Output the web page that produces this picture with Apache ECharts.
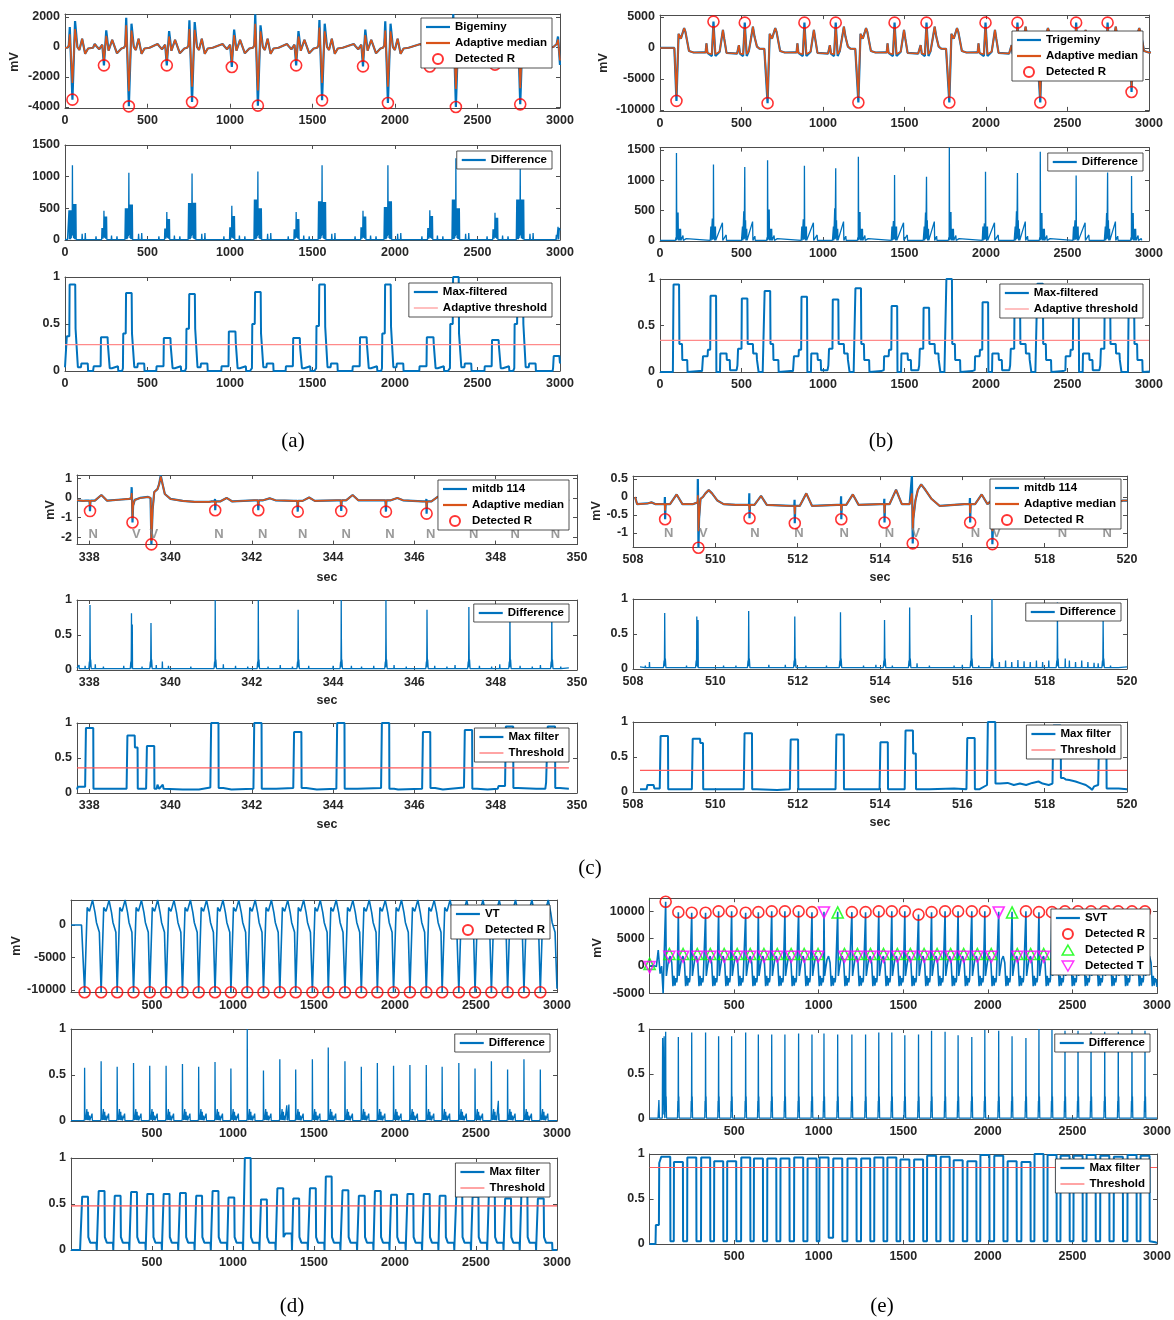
<!DOCTYPE html>
<html>
<head>
<meta charset="utf-8">
<script src="https://cdn.jsdelivr.net/npm/echarts@6/dist/echarts.min.js"></script>
<style>
  html, body { margin: 0; padding: 0; background: #fff; }
  #fig { width: 1174px; height: 1320px; }
</style>
</head>
<body>
<div id="fig"></div>
<script>
// ===================== (a) bigeminy =====================
const bgmVx = [45, 387, 770, 1169, 1558, 1957, 2369, 2759];          // ectopic beats
const bgmVr = [-3510, -3955, -3666, -3911, -3555, -3733, -4000, -3822];
const bgmVpre = [1333, 1955, 1780, 2178, 1800, 1711, 2200, 1900];
const bgmVpost = [1733, 1555, 1666, 1444, 1555, 1555, 1400, 1500];
const bgmVrMed = [-2400, -2950, -2650, -2900, -2400, -2650, -2800, -2750];
const bgmVpreMed = [850, 1450, 1200, 1550, 1300, 1100, 1400, 1450];
const bgmVpostMed = [1200, 1100, 1150, 1050, 1050, 1050, 1000, 1050];
const bgmNx = [236, 617, 1011, 1401, 1806, 2211, 2606];              // normal beats
const bgmNr = [-1222, -1222, -1333, -1222, -1289, -1300, -1178];
const bgmNpost = [1111, 1066, 1155, 1066, 1155, 1100, 1100];
const bgmNrMed = [-900, -900, -1000, -900, -950, -950, -880];
const bgmNpostMed = [750, 700, 800, 700, 800, 750, 750];
const bgmVShape = [[-30, -50], [-22, 100], [-16, 'pre'], [0, 'r'], [16, 'post'], [30, 0], [42, -200], [59, 550], [77, -450], [95, -100], [125, -50]];
const bgmNShape = [[-56, 200], [-45, 50], [-29, -150], [-10, 150], [0, 'r'], [14, 'post'], [28, -250], [50, 480], [79, -420], [106, -100]];
const bgmHead = [[0, -50], [8, -80]];
const bgmTail = [[2930, -50], [2960, 0], [2980, 200], [2988, 700], [3000, -1200]];
const bgmTailMed = [[2930, -50], [2960, 0], [2980, 200], [2988, 500], [3000, -900]];

const bgmDiffVpk = [1180, 1060, 1050, 1080, 1180, 1180, 1290, 1130];
const bgmDiffVs1 = [470, 500, 585, 640, 610, 520, 640, 640];
const bgmDiffVs2 = [570, 560, 590, 500, 600, 610, 500, 640];
const bgmDiffNpk = [460, 440, 540, 440, 460, 470, 430];
const bgmDiffNs1 = [190, 180, 200, 170, 200, 190, 170];
const bgmDiffNs2 = [370, 330, 380, 330, 370, 380, 350];
const bgmDiffVShape = [[-24, 5], [-21, 's1'], [-19, 10], [-17, 's1'], [-15, 20], [-13, 's1'], [-11, 10], [-9, 's1'], [-7, 30], [-5, 's1'], [-3, 60], [-1, 's1'], [0, 'pk'], [1, 's2'], [3, 80], [5, 's2'], [7, 30], [9, 's2'], [11, 20], [13, 's2'], [15, 10], [17, 's2'], [19, 10], [21, 's2'], [23, 5], [57, 5], [59, 100], [61, 5], [76, 5], [78, 110], [80, 5]];
const bgmDiffNShape = [[-50, 5], [-48, 60], [-46, 5], [-14, 5], [-12, 's1'], [-10, 20], [-8, 's1'], [-6, 20], [-4, 's1'], [-2, 40], [0, 'pk'], [2, 60], [4, 's2'], [6, 30], [8, 's2'], [10, 20], [12, 's2'], [14, 20], [16, 's2'], [18, 5], [44, 5], [46, 70], [48, 5], [77, 5], [79, 60], [81, 5]];
const bgmDiffHead = [[0, 10], [15, 5]];
const bgmDiffTail = [[2940, 5], [2975, 5], [2978, 80], [2981, 5], [2988, 210], [2992, 10], [2996, 190], [3000, 150]];

const bgmMaxVpk = [0.92, 0.83, 0.82, 0.84, 0.92, 0.92, 1.0, 0.88];
const bgmMaxVsh1 = [0.37, 0.40, 0.45, 0.50, 0.48, 0.40, 0.50, 0.50];
const bgmMaxVsh2 = [0.45, 0.40, 0.45, 0.40, 0.47, 0.47, 0.40, 0.50];
const bgmMaxNpk = [0.36, 0.35, 0.42, 0.35, 0.36, 0.36, 0.33];
const bgmMaxNsh = [0.28, 0.26, 0.30, 0.25, 0.28, 0.28, 0.26];
const bgmMaxVShape = [[-36, 0.03], [-34, 'sh1'], [-19, 'sh1'], [-17, 'pk'], [17, 'pk'], [19, 'sh2'], [31, 'sh2'], [33, 0.04], [52, 0.04], [54, 0.08], [93, 0.08], [95, 0.0], [125, 0.0]];
const bgmMaxNShape = [[-64, 0.0], [-62, 0.05], [-20, 0.05], [-18, 'pk'], [22, 'pk'], [24, 'sh'], [33, 'sh'], [35, 0.03], [48, 0.03], [50, 0.05], [85, 0.05], [87, 0.0], [110, 0.0]];
const bgmMaxHead = [[0, 0.04], [8, 0.04]];
const bgmMaxTail = [[2900, 0.0], [2955, 0.0], [2958, 0.03], [2962, 0.16], [2996, 0.16], [3000, 0.08]];
const bgmThreshold = 0.28;

// ===================== (b) trigeminy =====================
const tgmVx = [101, 660, 1217, 1775, 2333, 2893];
const tgmVr = [-8530, -8900, -8800, -8800, -8800, -7100];
const tgmVrMed = [-7550, -7900, -7800, -7800, -7800, -6400];
const tgmVb = [0, -200, -200, -150, -200, -200];
const tgmN1x = [328, 886, 1439, 1997, 2553];
const tgmN1r = [4250, 4080, 4080, 4080, 4080];
const tgmN1rMed = [3500, 3350, 3400, 3400, 3400];
const tgmN2x = [520, 1078, 1635, 2193, 2746];
const tgmN2r = [4080, 4080, 4080, 4080, 4080];
const tgmN2rMed = [3400, 3400, 3400, 3400, 3400];
const tgmVShape = [[-10, 'b'], [0, 'r'], [13, 2270], [27, 1500], [40, 2600], [47, 3200], [55, 2600], [77, -500], [105, -730], [160, -720]];
const tgmN1Shape = [[-48, -720], [-43, 750], [-37, -800], [-10, 'q'], [0, 'r'], [12, 'q'], [38, -600], [50, 1500], [58, 2900], [66, 1500], [80, -800], [145, -900]];
const tgmN2Shape = [[-42, -900], [-36, 450], [-29, -900], [-10, 'q'], [0, 'r'], [12, 'q'], [25, -500], [40, 1800], [50, 3450], [60, 1800], [75, 200], [90, -100], [120, -150]];
const tgmHead = [[0, 0], [88, 0]];

const tgmDiffVpk = [1450, 1330, 1390, 1540, 1470, 1070];
const tgmDiffVs = [470, 520, 480, 480, 460, 460];
const tgmDiffN1pk = [1260, 1240, 1090, 1140, 1080];
const tgmDiffN1s = [370, 360, 330, 290, 340];
const tgmDiffN2pk = [1220, 1200, 1060, 1120, 1130];
const tgmDiffN2s = [490, 540, 470, 490, 460];
const tgmDiffVShape = [[-6, 10], [-3, 60], [-1, 10], [0, 'pk'], [2, 20], [5, 's'], [7, 30], [10, 's'], [12, 10], [17, 200], [19, 10], [25, 200], [27, 10], [40, 90], [42, 10], [60, 40], [62, 10]];
const tgmDiffN1Shape = [[-20, 10], [-16, 240], [-14, 10], [-7, 's'], [-5, 20], [-3, 's'], [-1, 30], [0, 'pk'], [2, 50], [5, 240], [7, 10], [12, 240], [14, 10], [55, 300], [57, 10], [78, 100], [80, 10]];
const tgmDiffN2Shape = [[-20, 10], [-14, 240], [-12, 10], [-6, 's'], [-4, 30], [-2, 's'], [0, 'pk'], [2, 40], [5, 340], [7, 10], [12, 200], [14, 10], [48, 320], [50, 10], [62, 80], [64, 10]];
const tgmDiffHead = [[0, 10], [80, 10]];

const tgmMaxVpk = [0.94, 0.87, 0.90, 1.0, 0.95, 0.69];
const tgmMaxN1pk = [0.82, 0.81, 0.71, 0.75, 0.70];
const tgmMaxN2pk = [0.79, 0.78, 0.69, 0.73, 0.73];
const tgmMaxVShape = [[-22, 0.0], [-20, 0.02], [-18, 'pk'], [16, 'pk'], [18, 0.3], [34, 0.3], [36, 0.13], [66, 0.13], [68, 0.0], [140, 0.01]];
const tgmMaxN1Shape = [[-70, 0.01], [-66, 0.02], [-64, 0.17], [-36, 0.17], [-34, 0.24], [-20, 0.24], [-18, 'pk'], [16, 'pk'], [18, 0.0], [40, 0.0], [42, 0.2], [80, 0.2], [82, 0.13], [100, 0.13], [102, 0.02], [122, 0.02]];
const tgmMaxN2Shape = [[-50, 0.02], [-45, 0.07], [-41, 0.25], [-20, 0.25], [-18, 'pk'], [16, 'pk'], [18, 0.3], [50, 0.3], [52, 0.2], [73, 0.2], [75, 0.13], [83, 0.13], [85, 0.0], [110, 0.0]];
const tgmMaxHead = [[0, 0.0], [60, 0.0]];
const tgmThreshold = 0.34;

// ===================== (c) mitdb 114, two excerpts =====================
const mitNShape = [[-0.1, 'b'], [-0.012, 'b'], [-0.005, 'pk'], [0, 'r'], [0.012, 'b'], [0.12, 'b'], [0.28, 'tw'], [0.42, 'b']];
const mitDiffShape = [[-0.03, 0.02], [-0.015, 0.12], [-0.008, 0.04], [-0.003, 0.4], [0, 'pk'], [0.004, 0.45], [0.01, 0.05], [0.016, 0.15], [0.03, 0.02]];
const mitSpikeShape = [[-0.006, 0.02], [0, 'h'], [0.006, 0.02]];
const mitMaxShape = [[-0.12, 'pre'], [-0.1, 'pk'], [0.08, 'pk'], [0.085, 'st'], [0.15, 'st'], [0.155, 'post'], [0.2, 'post']];

// excerpt 1: 338-350 s
const mit1Nt = [338.02, 341.10, 342.16, 343.13, 344.20, 345.30, 346.30, 347.34, 348.35, 349.38];
const mit1Nr = [-0.67, -0.63, -0.63, -0.70, -0.67, -0.70, -0.80, -0.75, -0.72, -0.75];
const mit1NrMed = [-0.40, -0.36, -0.36, -0.42, -0.40, -0.42, -0.50, -0.45, -0.43, -0.45];
const mit1Nb = [-0.14, -0.18, -0.12, -0.15, -0.12, -0.12, -0.18, -0.15, -0.15, -0.15];
const mit1Tw = [0.15, 0.0, -0.02, 0.02, 0.15, 0.0, 0.07, 0.05, 0.05, 0.05];
const mit1Vt = [339.065, 339.53];
const mit1Vr = [-1.25, -2.37];
const mit1VBlue = [[338.80, -0.08], [338.98, -0.05], [339.035, -0.02], [339.045, 0.55], [339.055, -0.2], [339.065, -1.25], [339.08, -0.4], [339.12, -0.1], [339.25, 0.0], [339.45, 0.05], [339.51, 0.0], [339.53, -2.37], [339.56, -0.6], [339.60, 0.3], [339.68, 0.45], [339.72, 0.7], [339.76, 1.15], [339.80, 0.75], [339.86, 0.2], [340.00, -0.05], [340.30, -0.15], [340.60, -0.2], [340.95, -0.2]];
const mit1VMed = [[338.80, -0.08], [338.98, -0.05], [339.035, -0.02], [339.045, 0.25], [339.055, -0.2], [339.065, -1.05], [339.08, -0.4], [339.12, -0.1], [339.25, 0.0], [339.45, 0.05], [339.51, 0.0], [339.53, -2.2], [339.56, -0.6], [339.60, 0.3], [339.68, 0.45], [339.72, 0.7], [339.76, 1.1], [339.80, 0.75], [339.86, 0.2], [340.00, -0.05], [340.30, -0.15], [340.60, -0.2], [340.95, -0.2]];
const mit1Head = [[337.70, -0.12], [337.85, -0.15]];
const mit1LabT = [338.10, 339.16, 339.59, 341.19, 342.27, 343.25, 344.32, 345.40, 346.40, 347.46, 348.48, 349.47];
const mit1LabS = ['N', 'V', 'V', 'N', 'N', 'N', 'N', 'N', 'N', 'N', 'N', 'N'];
const mit1DiffT = [338.02, 339.04, 339.52, 341.10, 342.16, 343.14, 344.20, 345.30, 346.31, 347.34, 348.35, 349.38];
const mit1DiffPk = [0.93, 0.81, 0.67, 1.0, 1.0, 0.86, 1.0, 1.0, 0.86, 0.90, 0.94, 0.94];
const mit1SmallT = [337.75, 337.90, 338.15, 338.35, 338.60, 338.85, 339.06, 339.30, 339.65, 339.80, 339.95, 340.20, 340.50, 340.80, 341.30, 341.60, 341.90, 342.40, 342.70, 343.00, 343.40, 343.70, 344.00, 344.45, 344.70, 345.00, 345.50, 345.80, 346.10, 346.50, 346.80, 347.00, 347.60, 347.90, 348.10, 348.60, 348.90, 349.10, 349.60];
const mit1SmallH = [0.07, 0.06, 0.08, 0.05, 0.04, 0.06, 0.65, 0.05, 0.07, 0.12, 0.06, 0.04, 0.05, 0.04, 0.08, 0.06, 0.05, 0.05, 0.07, 0.05, 0.06, 0.04, 0.06, 0.06, 0.05, 0.06, 0.07, 0.05, 0.04, 0.06, 0.05, 0.07, 0.06, 0.05, 0.08, 0.06, 0.05, 0.07, 0.05];
const mit1MaxPk = [0.93, 0.82, 0.67, 1.0, 1.0, 0.87, 1.0, 1.0, 0.87, 0.90, 0.95, 0.95];
const mit1MaxPre = [0.09, 0.06, 0.06, 0.08, 0.06, 0.07, 0.06, 0.07, 0.06, 0.08, 0.10, 0.15];
const mit1MaxSt = [0.06, 0.65, 0.06, 0.07, 0.06, 0.07, 0.06, 0.06, 0.07, 0.06, 0.07, 0.07];
const mit1MaxPost = [0.06, 0.06, 0.06, 0.07, 0.06, 0.07, 0.06, 0.06, 0.07, 0.06, 0.07, 0.07];
const mit1MaxExtra = [[337.70, 0.05], [337.72, 0.09], [339.66, 0.06], [339.68, 0.12], [339.81, 0.12], [339.83, 0.06], [340.30, 0.05], [340.70, 0.05], [341.50, 0.05], [342.60, 0.06], [343.60, 0.05], [344.60, 0.06], [345.60, 0.05], [346.70, 0.05], [347.80, 0.05], [348.05, 0.06], [348.07, 0.1], [349.00, 0.06], [349.22, 0.06], [349.24, 0.15], [349.80, 0.06]];
const mit1Threshold = 0.36;

// excerpt 2: 508-520 s
const mit2Nt = [508.78, 510.83, 511.93, 513.06, 514.11, 516.19, 518.31, 519.42];
const mit2Nr = [-0.62, -0.59, -0.73, -0.62, -0.71, -0.71, -0.70, -0.68];
const mit2NrMed = [-0.38, -0.36, -0.48, -0.38, -0.45, -0.45, -0.44, -0.42];
const mit2Npk = [0.0, 0.1, -0.08, 0.02, -0.05, -0.03, 0.0, 0.0];
const mit2Nb = [-0.2, -0.22, -0.25, -0.22, -0.2, -0.2, -0.15, -0.12];
const mit2Tw = [0.07, 0.03, 0.1, 0.07, 0.2, 0.07, 0.0, 0.0];
const mit2Vt = [509.59, 514.795, 516.73];
const mit2Vr = [-1.41, -1.29, -1.31];
const mit2VBlue = [
  [509.45, -0.2], [509.57, -0.15], [509.575, 0.5], [509.583, -0.3], [509.59, -1.41], [509.605, -0.6], [509.64, -0.05], [509.70, 0.0], [509.76, 0.1], [509.84, 0.19], [509.92, 0.1], [510.05, -0.1], [510.20, -0.2], [510.50, -0.22], [510.70, -0.22],
  [514.72, -0.2], [514.765, -0.15], [514.775, 0.58], [514.785, -0.2], [514.795, -1.29], [514.81, -0.6], [514.86, -0.1], [514.92, 0.2], [515.00, 0.35], [515.10, 0.2], [515.25, -0.05], [515.45, -0.25], [515.80, -0.22], [516.05, -0.2],
  [516.65, -0.15], [516.705, -0.1], [516.712, 0.3], [516.72, -0.3], [516.73, -1.31], [516.75, -0.6], [516.80, -0.1], [516.86, 0.15], [516.95, 0.3], [517.05, 0.15], [517.20, -0.1], [517.50, -0.15], [517.90, -0.1], [518.20, -0.12]];
const mit2VMed = [
  [509.45, -0.2], [509.57, -0.15], [509.575, 0.05], [509.583, -0.3], [509.59, -0.95], [509.605, -0.6], [509.64, -0.05], [509.70, 0.0], [509.76, 0.1], [509.84, 0.19], [509.92, 0.1], [510.05, -0.1], [510.20, -0.2], [510.50, -0.22], [510.70, -0.22],
  [514.72, -0.2], [514.765, -0.15], [514.775, 0.1], [514.785, -0.2], [514.795, -0.9], [514.81, -0.6], [514.86, -0.1], [514.92, 0.2], [515.00, 0.35], [515.10, 0.2], [515.25, -0.05], [515.45, -0.25], [515.80, -0.22], [516.05, -0.2],
  [516.65, -0.15], [516.705, -0.1], [516.712, 0.0], [516.72, -0.3], [516.73, -0.95], [516.75, -0.6], [516.80, -0.1], [516.86, 0.15], [516.95, 0.3], [517.05, 0.15], [517.20, -0.1], [517.50, -0.15], [517.90, -0.1], [518.20, -0.12]];
const mit2Head = [[508.05, 0.0], [508.10, -0.2], [508.35, -0.18], [508.45, -0.15], [508.55, -0.2]];
const mit2Tail = [[519.90, -0.1], [520.00, -0.1]];
const mit2LabT = [508.87, 509.71, 510.96, 512.03, 513.13, 514.23, 514.87, 516.32, 516.83, 518.43, 519.52];
const mit2LabS = ['N', 'V', 'N', 'N', 'N', 'N', 'V', 'N', 'V', 'N', 'N'];
const mit2DiffT = [508.77, 509.55, 510.81, 511.93, 513.04, 514.11, 514.72, 516.22, 516.72, 518.31, 519.42];
const mit2DiffPk = [0.80, 0.75, 0.83, 0.75, 0.81, 0.70, 0.88, 0.77, 1.00, 0.95, 0.72];
const mit2SmallT = [508.30, 508.40, 508.60, 509.00, 509.30, 509.58, 509.90, 510.20, 510.50, 511.00, 511.30, 511.70, 512.20, 512.50, 512.70, 513.30, 513.60, 513.90, 514.30, 514.50, 514.90, 515.20, 515.50, 515.80, 516.00, 516.40, 516.90, 517.05, 517.20, 517.35, 517.50, 517.65, 517.80, 517.95, 518.10, 518.50, 518.60, 518.75, 518.90, 519.05, 519.20, 519.30, 519.60, 519.80];
const mit2SmallH = [0.05, 0.10, 0.04, 0.04, 0.05, 0.70, 0.04, 0.05, 0.05, 0.04, 0.06, 0.06, 0.05, 0.04, 0.05, 0.04, 0.05, 0.06, 0.05, 0.04, 0.08, 0.05, 0.04, 0.05, 0.06, 0.05, 0.10, 0.12, 0.10, 0.13, 0.11, 0.10, 0.12, 0.10, 0.12, 0.15, 0.12, 0.10, 0.12, 0.10, 0.09, 0.08, 0.05, 0.04];
const mit2MaxPk = [0.80, 0.76, 0.84, 0.75, 0.82, 0.71, 0.88, 0.77, 1.00, 0.95, 0.72];
const mit2MaxPre = [0.05, 0.04, 0.04, 0.04, 0.04, 0.04, 0.04, 0.04, 0.10, 0.12, 0.10];
const mit2MaxSt = [0.04, 0.70, 0.04, 0.04, 0.04, 0.04, 0.55, 0.04, 0.12, 0.20, 0.05];
const mit2MaxPost = [0.04, 0.04, 0.04, 0.04, 0.04, 0.04, 0.04, 0.04, 0.12, 0.18, 0.05];
const mit2MaxExtra = [[508.17, 0.04], [508.33, 0.04], [508.35, 0.1], [508.50, 0.1], [508.52, 0.05], [510.00, 0.04], [511.50, 0.03], [512.50, 0.04], [513.50, 0.04], [515.20, 0.04], [515.80, 0.05], [516.95, 0.12], [517.10, 0.13], [517.25, 0.1], [517.40, 0.12], [517.55, 0.1], [517.70, 0.13], [517.85, 0.15], [517.95, 0.12], [518.10, 0.1], [518.60, 0.17], [518.75, 0.15], [518.90, 0.12], [519.00, 0.1], [519.10, 0.06], [519.15, 0.03], [519.20, 0.08], [519.70, 0.05], [519.80, 0.05], [520.00, 0.04]];
const mit2Threshold = 0.31;

// ===================== (d) ventricular tachycardia =====================
const vtR = [84, 186, 285, 386, 486, 587, 688, 788, 889, 987, 1088, 1188, 1289, 1387, 1490, 1588, 1691, 1792, 1891, 1991, 2092, 2193, 2291, 2394, 2494, 2595, 2695, 2796, 2897];
const vtRv = [-10350, -10350, -10350, -10350, -10350, -10350, -10350, -10350, -10350, -10350, -10350, -10350, -10350, -10350, -10350, -10350, -10350, -10350, -10350, -10350, -10350, -10350, -10350, -10350, -10350, -10350, -10350, -10350, -10350];
const vtPeak = [3850, 3800, 3850, 3800, 3850, 3800, 3850, 3800, 3850, 3800, 3850, 3850, 3800, 3850, 3800, 3850, 3800, 3850, 3800, 3850, 3850, 3800, 3850, 3800, 3850, 3800, 3850, 3850, 3850];
const vtShape = [[0, 'r'], [16, 2700], [30, 2100], [49, 'pk'], [64, 1950], [73, 400], [91, -1100]];
const vtHead = [[0, 0], [65, 0]];
const vtTail = [[3000, -9800]];
const vtDiffPk = [0.58, 0.65, 0.59, 0.63, 0.60, 0.60, 0.62, 0.59, 0.64, 0.57, 1.00, 0.55, 0.67, 0.56, 0.67, 0.80, 0.65, 0.59, 0.63, 0.60, 0.61, 0.61, 0.59, 0.63, 0.57, 0.65, 0.56, 0.67, 0.56];
const vtDiffShape = [[-3, 0.005], [-1, 0.03], [0, 'pk'], [2, 0.02], [5, 0.06], [7, 0.01], [14, 0.13], [16, 0.01], [22, 0.1], [24, 0.01], [30, 0.06], [32, 0.005], [46, 0.08], [48, 0.005]];
const vtDiffExtra = [[0, 0.005], [60, 0.005], [62, 0.02], [64, 0.005], [1330, 0.005], [1332, 0.17], [1334, 0.01], [1345, 0.18], [1347, 0.005], [2636, 0.005], [2638, 0.22], [2640, 0.005], [3000, 0.005]];
const vtMaxPk = [0.58, 0.64, 0.59, 0.63, 0.61, 0.61, 0.62, 0.59, 0.64, 0.57, 1.00, 0.55, 0.67, 0.56, 0.67, 0.80, 0.65, 0.59, 0.64, 0.60, 0.61, 0.61, 0.59, 0.63, 0.58, 0.65, 0.56, 0.67, 0.56];
const vtMaxMid = [0.08, 0.08, 0.08, 0.08, 0.08, 0.08, 0.08, 0.08, 0.08, 0.08, 0.08, 0.08, 0.18, 0.08, 0.08, 0.08, 0.08, 0.08, 0.08, 0.08, 0.08, 0.08, 0.08, 0.08, 0.08, 0.08, 0.08, 0.08, 0.08];
const vtMaxShape = [[-17, 0.0], [-15, 'pk'], [21, 'pk'], [23, 0.14], [33, 0.14], [35, 'm'], [73, 'm'], [75, 0.0], [83, 0.0]];
const vtMaxHead = [[0, 0.0], [56, 0.0], [58, 0.02], [66, 0.02]];
const vtMaxTail = [[3000, 0.0]];
const vtThreshold = 0.48;

// ===================== (e) supraventricular tachycardia =====================
const svtR = [95, 170, 249, 331, 408, 485, 568, 643, 722, 800, 881, 960, 1031, 1112, 1196, 1277, 1355, 1432, 1509, 1590, 1667, 1747, 1824, 1905, 1982, 2064, 2143, 2225, 2302, 2379, 2456, 2533, 2610, 2691, 2771, 2852, 2929];
const svtPeak = [11750, 9850, 9750, 9750, 10000, 10000, 9750, 9850, 10000, 10000, 10000, 9850, 9900, 9900, 9850, 9850, 10000, 10000, 10000, 9400, 9850, 10000, 10000, 10000, 10000, 9900, 9900, 10000, 9850, 9850, 10000, 10000, 10000, 10000, 10000, 10000, 10000];
const svtRdetT = [95, 170, 249, 331, 408, 485, 568, 643, 722, 800, 881, 960, 1196, 1277, 1355, 1432, 1509, 1590, 1667, 1747, 1824, 1905, 1982, 2225, 2302, 2379, 2456, 2533, 2610, 2691, 2771, 2852, 2929];
const svtRdetV = [11750, 9850, 9750, 9750, 10000, 10000, 9750, 9850, 10000, 10000, 10000, 9850, 9850, 9850, 10000, 10000, 10000, 9400, 9850, 10000, 10000, 10000, 10000, 10000, 9850, 9850, 10000, 10000, 10000, 10000, 10000, 10000, 10000];
const svtPt = [0, 117, 198, 282, 359, 441, 518, 595, 676, 755, 837, 914, 996, 1112, 1152, 1229, 1306, 1383, 1465, 1542, 1623, 1700, 1780, 1857, 1938, 2020, 2143, 2174, 2253, 2330, 2407, 2484, 2561, 2642, 2720, 2800, 2880];
const svtPv = [400, 2200, 2200, 2200, 2200, 2200, 2200, 2200, 2200, 2200, 2200, 2200, 2200, 9800, 2200, 2200, 2200, 2200, 2200, 2200, 2200, 2200, 2200, 2200, 2200, 2200, 9800, 2200, 2200, 2200, 2200, 2200, 2200, 2200, 2200, 2200, 2200];
const svtTt = [0, 117, 198, 282, 359, 441, 518, 595, 676, 755, 837, 914, 996, 1031, 1152, 1229, 1306, 1383, 1465, 1542, 1623, 1700, 1780, 1857, 1938, 2020, 2064, 2174, 2253, 2330, 2407, 2484, 2561, 2642, 2720, 2800, 2880];
const svtTv = [-200, 1700, 1700, 1700, 1700, 1700, 1700, 1700, 1700, 1700, 1700, 1700, 1700, 9800, 1700, 1700, 1700, 1700, 1700, 1700, 1700, 1700, 1700, 1700, 1700, 1700, 9800, 1700, 1700, 1700, 1700, 1700, 1700, 1700, 1700, 1700, 1700];
const svtShape = [[0, 'pk'], [4, -1800], [9, -600], [18, 1200], [27, 1800], [36, 600], [43, -3700], [49, -1800], [55, -3600], [60, -2200], [65, -3000], [68, -2400]];
const svtHead = [[0, 0], [20, 100], [40, -100], [51, 2900], [62, -1400], [71, 0], [80, -5000]];
const svtTail = [[3000, -3800]];
const svtDiffPk = [0.97, 0.91, 0.96, 0.96, 0.92, 0.92, 0.96, 0.94, 0.94, 0.94, 0.95, 0.94, 0.95, 0.94, 0.94, 0.94, 0.96, 0.96, 0.93, 0.94, 0.98, 0.97, 0.93, 0.91, 0.99, 0.98, 0.92, 0.90, 1.0, 0.99, 0.98, 0.98, 0.97, 0.97, 0.97, 0.99, 0.98];
const svtDiffShape = [[-5, 0.01], [-3, 0.2], [-2, 0.08], [-1, 0.3], [0, 'pk'], [1, 0.3], [2, 0.1], [3, 0.25], [5, 0.01], [12, 0.01], [14, 0.03], [16, 0.01]];
const svtDiffHead = [[0, 0.01], [50, 0.01], [55, 0.21], [58, 0.01], [75, 0.01], [77, 0.9], [80, 0.05], [86, 0.92], [89, 0.05]];
const svtDiffTail = [[3000, 0.01]];
const svtMaxPk = [0.97, 0.91, 0.96, 0.96, 0.92, 0.92, 0.96, 0.95, 0.95, 0.95, 0.96, 0.95, 0.96, 0.95, 0.95, 0.95, 0.96, 0.96, 0.94, 0.94, 0.98, 0.97, 0.93, 0.92, 0.99, 0.98, 0.92, 0.91, 1.0, 0.99, 0.98, 0.98, 0.99, 0.98, 0.97, 0.99, 0.98];
const svtMaxPre = [0.92, 0.03, 0.03, 0.03, 0.03, 0.03, 0.03, 0.03, 0.03, 0.03, 0.03, 0.03, 0.03, 0.07, 0.03, 0.03, 0.03, 0.03, 0.03, 0.03, 0.03, 0.03, 0.03, 0.03, 0.03, 0.03, 0.03, 0.03, 0.03, 0.03, 0.03, 0.03, 0.03, 0.03, 0.03, 0.03, 0.03];
const svtMaxPost = [0.03, 0.03, 0.03, 0.03, 0.03, 0.03, 0.03, 0.03, 0.03, 0.03, 0.03, 0.03, 0.07, 0.03, 0.03, 0.03, 0.03, 0.03, 0.03, 0.03, 0.03, 0.03, 0.03, 0.03, 0.03, 0.03, 0.03, 0.03, 0.03, 0.03, 0.03, 0.03, 0.03, 0.03, 0.03, 0.03, 0.03];
const svtMaxShape = [[-27, 'pre'], [-26, 'pk'], [27, 'pk'], [28, 'post']];
const svtMaxHead = [[0, 0.0], [35, 0.0], [37, 0.21], [55, 0.21], [57, 0.9], [66, 0.92]];
const svtMaxTail = [[2990, 0.02], [3000, 0.01]];
const svtThreshold = 0.85;

// ===================== tick values =====================
const xTicks3000 = [0, 500, 1000, 1500, 2000, 2500, 3000];
const xTicks3000NoZero = [500, 1000, 1500, 2000, 2500, 3000];
const xTicksMit1 = [338, 340, 342, 344, 346, 348, 350];
const xTicksMit2 = [508, 510, 512, 514, 516, 518, 520];
const yTicksUnit = [0, 0.5, 1];

// ===================== helpers =====================
// place a beat shape at every beat time; string entries pick per-beat values
function beats(times, shape, vals) {
  const out = [];
  times.forEach((t, i) => {
    shape.forEach(([dt, spec]) => {
      let v = spec;
      if (typeof spec === 'string') {
        const src = vals[spec];
        v = Array.isArray(src) ? src[i] : src;
      }
      out.push([+(t + dt).toFixed(4), v]);
    });
  });
  return out;
}
function trace() {
  const all = [].concat(...arguments);
  return all.sort((a, b) => a[0] - b[0]);
}
function pairs(xs, ys) { return xs.map((x, i) => [x, ys[i]]); }
function labelled(xs, y, s) { return xs.map((x, i) => [x, y, s[i]]); }

const FONT = '"Liberation Sans", Arial, Helvetica, sans-serif';
const AX = '#262626';
const BLUE = '#0072BD', ORANGE = '#D95319', RED = '#FF0000';
const GREEN = '#00FF00', MAGENTA = '#FF00FF';
const THR_A = '#FF8A8A', THR_B = '#FF5A5A';

const lineS = (name, data, color, width) => ({
  type: 'line', name, data, symbol: 'none', showSymbol: false,
  lineStyle: { color, width }, itemStyle: { color }, animation: false, clip: true
});
const markS = (name, data, symbol, color, size, rotate) => ({
  type: 'scatter', name, data, symbol, symbolSize: size, symbolRotate: rotate || 0,
  itemStyle: { color: 'rgba(0,0,0,0)', borderColor: color, borderWidth: 1.6 },
  clip: false, animation: false, z: 5
});
const annS = (data) => ({
  type: 'scatter', name: 'beat type', data, symbolSize: 1, silent: true,
  itemStyle: { color: 'rgba(0,0,0,0)' },
  label: { show: true, position: 'inside', formatter: p => p.value[2], color: '#808080', fontFamily: FONT, fontWeight: 'bold', fontSize: 13 },
  clip: false, animation: false, z: 4
});
const hline = (name, y, x0, x1, color) => lineS(name, [[x0, y], [x1, y]], color, 1.2);

// legend swatches: a plain stroke for lines, hollow markers for detections
const ICON_THICK = 'path://M0,0L24,0L24,2.2L0,2.2Z';
const ICON_THIN = 'path://M0,0L24,0L24,1.1L0,1.1Z';
const legendIcons = {
  'Detected R': null,
  'Detected P': { icon: 'path://M5,0L10,8.66L0,8.66Z', itemStyle: { color: 'rgba(0,0,0,0)', borderColor: GREEN, borderWidth: 1.5 } },
  'Detected T': { icon: 'path://M0,0L10,0L5,8.66Z', itemStyle: { color: 'rgba(0,0,0,0)', borderColor: MAGENTA, borderWidth: 1.5 } },
  'Adaptive threshold': { icon: ICON_THIN },
  'Threshold': { icon: ICON_THIN }
};
function legendItem(name) {
  if (name in legendIcons) {
    const spec = legendIcons[name];
    return spec ? Object.assign({ name }, spec) : name;
  }
  return { name, icon: ICON_THICK };
}

// ===================== series data =====================
const bgmBlue = trace(bgmHead, beats(bgmVx, bgmVShape, { pre: bgmVpre, r: bgmVr, post: bgmVpost }), beats(bgmNx, bgmNShape, { r: bgmNr, post: bgmNpost }), bgmTail);
const bgmMed = trace(bgmHead, beats(bgmVx, bgmVShape, { pre: bgmVpreMed, r: bgmVrMed, post: bgmVpostMed }), beats(bgmNx, bgmNShape, { r: bgmNrMed, post: bgmNpostMed }), bgmTailMed);
const bgmDet = trace(pairs(bgmVx, bgmVr), pairs(bgmNx, bgmNr));
const bgmDiff = trace(bgmDiffHead, beats(bgmVx, bgmDiffVShape, { pk: bgmDiffVpk, s1: bgmDiffVs1, s2: bgmDiffVs2 }), beats(bgmNx, bgmDiffNShape, { pk: bgmDiffNpk, s1: bgmDiffNs1, s2: bgmDiffNs2 }), bgmDiffTail);
const bgmMax = trace(bgmMaxHead, beats(bgmVx, bgmMaxVShape, { pk: bgmMaxVpk, sh1: bgmMaxVsh1, sh2: bgmMaxVsh2 }), beats(bgmNx, bgmMaxNShape, { pk: bgmMaxNpk, sh: bgmMaxNsh }), bgmMaxTail);

const tgmBlue = trace(tgmHead, beats(tgmVx, tgmVShape, { b: tgmVb, r: tgmVr }), beats(tgmN1x, tgmN1Shape, { r: tgmN1r, q: -1300 }), beats(tgmN2x, tgmN2Shape, { r: tgmN2r, q: -1300 }));
const tgmMed = trace(tgmHead, beats(tgmVx, tgmVShape, { b: tgmVb, r: tgmVrMed }), beats(tgmN1x, tgmN1Shape, { r: tgmN1rMed, q: -1000 }), beats(tgmN2x, tgmN2Shape, { r: tgmN2rMed, q: -1000 }));
const tgmDet = trace(pairs(tgmVx, tgmVr), pairs(tgmN1x, tgmN1r), pairs(tgmN2x, tgmN2r));
const tgmDiff = trace(tgmDiffHead, beats(tgmVx, tgmDiffVShape, { pk: tgmDiffVpk, s: tgmDiffVs }), beats(tgmN1x, tgmDiffN1Shape, { pk: tgmDiffN1pk, s: tgmDiffN1s }), beats(tgmN2x, tgmDiffN2Shape, { pk: tgmDiffN2pk, s: tgmDiffN2s }));
const tgmMax = trace(tgmMaxHead, beats(tgmVx, tgmMaxVShape, { pk: tgmMaxVpk }), beats(tgmN1x, tgmMaxN1Shape, { pk: tgmMaxN1pk }), beats(tgmN2x, tgmMaxN2Shape, { pk: tgmMaxN2pk }));

const mit1Blue = trace(mit1Head, beats(mit1Nt, mitNShape, { b: mit1Nb, pk: -0.05, r: mit1Nr, tw: mit1Tw }), mit1VBlue);
const mit1Med = trace(mit1Head, beats(mit1Nt, mitNShape, { b: mit1Nb, pk: mit1Nb, r: mit1NrMed, tw: mit1Tw }), mit1VMed);
const mit1Det = trace(pairs(mit1Nt, mit1Nr), pairs(mit1Vt, mit1Vr));
const mit1Diff = trace([[337.70, 0.03]], beats(mit1DiffT, mitDiffShape, { pk: mit1DiffPk }), beats(mit1SmallT, mitSpikeShape, { h: mit1SmallH }), [[349.80, 0.03]]);
const mit1Max = trace(mit1MaxExtra, beats(mit1DiffT, mitMaxShape, { pk: mit1MaxPk, pre: mit1MaxPre, st: mit1MaxSt, post: mit1MaxPost }));

const mit2Blue = trace(mit2Head, beats(mit2Nt, mitNShape, { b: mit2Nb, pk: mit2Npk, r: mit2Nr, tw: mit2Tw }), mit2VBlue, mit2Tail);
const mit2Med = trace(mit2Head, beats(mit2Nt, mitNShape, { b: mit2Nb, pk: mit2Nb, r: mit2NrMed, tw: mit2Tw }), mit2VMed, mit2Tail);
const mit2Det = trace(pairs(mit2Nt, mit2Nr), pairs(mit2Vt, mit2Vr));
const mit2Diff = trace([[508.17, 0.03]], beats(mit2DiffT, mitDiffShape, { pk: mit2DiffPk }), beats(mit2SmallT, mitSpikeShape, { h: mit2SmallH }), [[520.00, 0.03]]);
const mit2Max = trace(mit2MaxExtra, beats(mit2DiffT, mitMaxShape, { pk: mit2MaxPk, pre: mit2MaxPre, st: mit2MaxSt, post: mit2MaxPost }));

const vtSig = trace(vtHead, beats(vtR, vtShape, { r: vtRv, pk: vtPeak }), vtTail);
const vtDet = pairs(vtR, vtRv);
const vtDiff = trace(vtDiffExtra, beats(vtR, vtDiffShape, { pk: vtDiffPk }));
const vtMax = trace(vtMaxHead, beats(vtR, vtMaxShape, { pk: vtMaxPk, m: vtMaxMid }), vtMaxTail);

const svtSig = trace(svtHead, beats(svtR, svtShape, { pk: svtPeak }), svtTail);
const svtDetR = pairs(svtRdetT, svtRdetV);
const svtDetP = pairs(svtPt, svtPv);
const svtDetT = pairs(svtTt, svtTv);
const svtDiff = trace(svtDiffHead, beats(svtR, svtDiffShape, { pk: svtDiffPk }), svtDiffTail);
const svtMax = trace(svtMaxHead, beats(svtR, svtMaxShape, { pk: svtMaxPk, pre: svtMaxPre, post: svtMaxPost }), svtMaxTail);

// ===================== subplot layout =====================
const W = 1174;
const panels = [
  { box: [65, 14, 560, 107.75], x: [0, 3000, xTicks3000], y: [-4050, 2200, [-4000, -2000, 0, 2000]],
    series: [lineS('Bigeminy', bgmBlue, BLUE, 2.2), lineS('Adaptive median', bgmMed, ORANGE, 1.6), markS('Detected R', bgmDet, 'circle', RED, 11)],
    legend: { items: ['Bigeminy', 'Adaptive median', 'Detected R'], right: 552, top: 18 } },
  { box: [65, 145, 560, 240], x: [0, 3000, xTicks3000], y: [0, 1500, [0, 500, 1000, 1500]],
    series: [lineS('Difference', bgmDiff, BLUE, 1.3)], legend: { items: ['Difference'], right: 552, top: 151 } },
  { box: [65, 277, 560, 371], x: [0, 3000, xTicks3000], y: [0, 1, yTicksUnit],
    series: [lineS('Max-filtered', bgmMax, BLUE, 2), hline('Adaptive threshold', bgmThreshold, 0, 3000, THR_A)],
    legend: { items: ['Max-filtered', 'Adaptive threshold'], right: 552, top: 283 } },

  { box: [660, 15.1, 1149, 110.9], x: [0, 3000, xTicks3000], y: [-10150, 5300, [-10000, -5000, 0, 5000]],
    series: [lineS('Trigeminy', tgmBlue, BLUE, 2.2), lineS('Adaptive median', tgmMed, ORANGE, 1.6), markS('Detected R', tgmDet, 'circle', RED, 11)],
    legend: { items: ['Trigeminy', 'Adaptive median', 'Detected R'], right: 1143, top: 31 } },
  { box: [660, 147.6, 1149, 241], x: [0, 3000, xTicks3000], y: [0, 1540, [0, 500, 1000, 1500]],
    series: [lineS('Difference', tgmDiff, BLUE, 1.3)], legend: { items: ['Difference'], right: 1143, top: 153 } },
  { box: [660, 279, 1149, 372], x: [0, 3000, xTicks3000], y: [0, 1, yTicksUnit],
    series: [lineS('Max-filtered', tgmMax, BLUE, 2), hline('Adaptive threshold', tgmThreshold, 0, 3000, THR_A)],
    legend: { items: ['Max-filtered', 'Adaptive threshold'], right: 1143, top: 284 } },

  { box: [77, 475, 577, 544.6], x: [337.7, 350, xTicksMit1], y: [-2.38, 1.17, [-2, -1, 0, 1]],
    series: [lineS('mitdb 114', mit1Blue, BLUE, 2.2), lineS('Adaptive median', mit1Med, ORANGE, 1.6), annS(labelled(mit1LabT, -1.87, mit1LabS)), markS('Detected R', mit1Det, 'circle', RED, 11)],
    legend: { items: ['mitdb 114', 'Adaptive median', 'Detected R'], right: 569, top: 480 } },
  { box: [77, 600, 577, 670], x: [337.7, 350, xTicksMit1], y: [0, 1, yTicksUnit],
    series: [lineS('Difference', mit1Diff, BLUE, 1.3)], legend: { items: ['Difference'], right: 569, top: 604 } },
  { box: [77, 723, 577, 793], x: [337.7, 350, xTicksMit1], y: [0, 1, yTicksUnit],
    series: [lineS('Max filter', mit1Max, BLUE, 2), hline('Threshold', mit1Threshold, 337.7, 349.8, THR_B)],
    legend: { items: ['Max filter', 'Threshold'], right: 569, top: 728 } },

  { box: [633, 476.1, 1127, 547], x: [508, 520, xTicksMit2], y: [-1.39, 0.58, [-1, -0.5, 0, 0.5]],
    series: [lineS('mitdb 114', mit2Blue, BLUE, 2.2), lineS('Adaptive median', mit2Med, ORANGE, 1.6), annS(labelled(mit2LabT, -1.02, mit2LabS)), markS('Detected R', mit2Det, 'circle', RED, 11)],
    legend: { items: ['mitdb 114', 'Adaptive median', 'Detected R'], right: 1121, top: 479 } },
  { box: [633, 599, 1127, 669], x: [508, 520, xTicksMit2], y: [0, 1, yTicksUnit],
    series: [lineS('Difference', mit2Diff, BLUE, 1.3)], legend: { items: ['Difference'], right: 1121, top: 603 } },
  { box: [633, 722, 1127, 792], x: [508, 520, xTicksMit2], y: [0, 1, yTicksUnit],
    series: [lineS('Max filter', mit2Max, BLUE, 2), hline('Threshold', mit2Threshold, 508.17, 520, THR_B)],
    legend: { items: ['Max filter', 'Threshold'], right: 1121, top: 725 } },

  { box: [71, 900, 557, 992.6], x: [0, 3000, xTicks3000NoZero], y: [-10400, 3850, [-10000, -5000, 0]],
    series: [lineS('VT', vtSig, BLUE, 1.6), markS('Detected R', vtDet, 'circle', RED, 11)],
    legend: { items: ['VT', 'Detected R'], right: 550, top: 905 } },
  { box: [71, 1029, 557, 1121], x: [0, 3000, xTicks3000NoZero], y: [0, 1, yTicksUnit],
    series: [lineS('Difference', vtDiff, BLUE, 1.3)], legend: { items: ['Difference'], right: 550, top: 1034 } },
  { box: [71, 1158, 557, 1250], x: [0, 3000, xTicks3000NoZero], y: [0, 1, yTicksUnit],
    series: [lineS('Max filter', vtMax, BLUE, 2), hline('Threshold', vtThreshold, 0, 3000, THR_B)],
    legend: { items: ['Max filter', 'Threshold'], right: 550, top: 1163 } },

  { box: [649.6, 898.2, 1157, 993.4], x: [0, 3000, xTicks3000NoZero], y: [-5000, 12400, [-5000, 0, 5000, 10000]],
    series: [lineS('SVT', svtSig, BLUE, 1.6), markS('Detected R', svtDetR, 'circle', RED, 11),
             markS('Detected P', svtDetP, 'triangle', GREEN, 11), markS('Detected T', svtDetT, 'triangle', MAGENTA, 11, 180)],
    legend: { items: ['SVT', 'Detected R', 'Detected P', 'Detected T'], right: 1150, top: 909 } },
  { box: [649.6, 1029, 1157, 1119], x: [0, 3000, xTicks3000NoZero], y: [0, 1, yTicksUnit],
    series: [lineS('Difference', svtDiff, BLUE, 1.3)], legend: { items: ['Difference'], right: 1150, top: 1034 } },
  { box: [649.6, 1154, 1157, 1244], x: [0, 3000, xTicks3000NoZero], y: [0, 1, yTicksUnit],
    series: [lineS('Max filter', svtMax, BLUE, 2), hline('Threshold', svtThreshold, 0, 3000, THR_B)],
    legend: { items: ['Max filter', 'Threshold'], right: 1150, top: 1159 } }
];

// free text: panel tags, axis titles
const texts = [
  ['(a)', 293, 441, 0, 'panel'], ['(b)', 881, 441, 0, 'panel'], ['(c)', 590, 868, 0, 'panel'],
  ['(d)', 292, 1306, 0, 'panel'], ['(e)', 882, 1306, 0, 'panel'],
  ['mV', 15, 62, 1, 'axis'], ['mV', 604, 63, 1, 'axis'], ['mV', 51, 510, 1, 'axis'], ['mV', 597, 511, 1, 'axis'],
  ['mV', 17, 946, 1, 'axis'], ['mV', 598, 948, 1, 'axis'],
  ['sec', 327, 578, 0, 'axis'], ['sec', 327, 701, 0, 'axis'], ['sec', 327, 825, 0, 'axis'],
  ['sec', 880, 578, 0, 'axis'], ['sec', 880, 700, 0, 'axis'], ['sec', 880, 823, 0, 'axis']
];

// ===================== option assembly =====================
function axis(position, gridIndex, spec, showLabels) {
  const [min, max, ticks] = spec;
  return {
    type: 'value', gridIndex, position, min, max,
    axisLine: { show: true, onZero: false, lineStyle: { color: '#4d4d4d', width: 1 } },
    axisTick: { show: true, inside: true, length: 4, customValues: ticks, lineStyle: { color: '#4d4d4d', width: 1 } },
    axisLabel: { show: showLabels, customValues: ticks, margin: (position === 'bottom') ? 6 : 5,
      color: AX, fontFamily: FONT, fontWeight: 'bold', fontSize: 12.5, formatter: v => String(v) },
    splitLine: { show: false }, splitArea: { show: false }, minorTick: { show: false }
  };
}

const option = {
  animation: false, backgroundColor: '#ffffff',
  textStyle: { fontFamily: FONT },
  grid: [], xAxis: [], yAxis: [], series: [], legend: [], graphic: []
};

panels.forEach((p, i) => {
  const [x0, y0, x1, y1] = p.box;
  option.grid.push({ left: x0, top: y0, width: x1 - x0, height: y1 - y0, containLabel: false, outerBoundsMode: 'none', show: false });
  option.xAxis.push(axis('bottom', i, p.x, true), axis('top', i, p.x, false));
  option.yAxis.push(axis('left', i, p.y, true), axis('right', i, p.y, false));
  p.series.forEach(s => { s.xAxisIndex = 2 * i; s.yAxisIndex = 2 * i; option.series.push(s); });
  option.legend.push({
    data: p.legend.items.map(legendItem), orient: 'vertical', right: W - p.legend.right, top: p.legend.top,
    padding: [2, 5, 2, 5], itemGap: 2, itemWidth: 24, itemHeight: 10,
    backgroundColor: '#ffffff', borderColor: '#262626', borderWidth: 0.8, borderRadius: 0,
    selectedMode: false, z: 10,
    textStyle: { fontFamily: FONT, fontWeight: 'bold', fontSize: 11.5, color: '#000', lineHeight: 14 }
  });
});

texts.forEach(([text, x, y, rot, kind]) => {
  const font = kind === 'panel' ? '21px "Liberation Serif", "DejaVu Serif", serif' : 'bold 12.5px ' + FONT;
  option.graphic.push({
    type: 'text', x, y, rotation: rot ? Math.PI / 2 : 0, z: 100, silent: true,
    style: { text, fill: kind === 'panel' ? '#000' : AX, font,
      align: 'center', verticalAlign: 'middle', textAlign: 'center', textVerticalAlign: 'middle' }
  });
});

const chart = echarts.init(document.getElementById('fig'), null, { renderer: 'canvas', width: 1174, height: 1320 });
chart.setOption(option);
</script>
</body>
</html>
